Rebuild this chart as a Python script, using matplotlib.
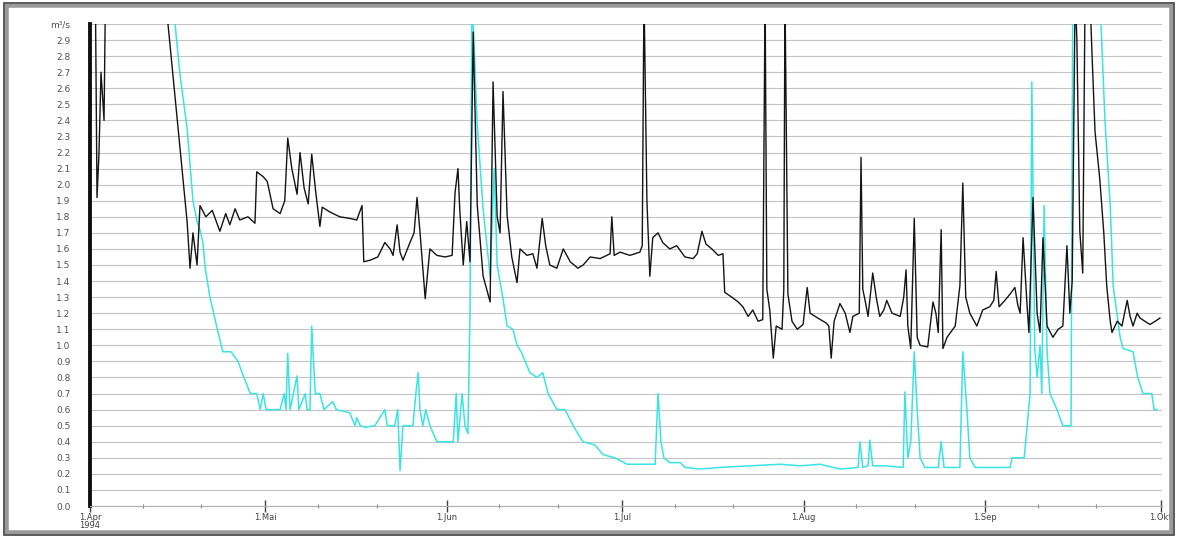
import datetime as dt
import matplotlib
matplotlib.use("Agg")
import matplotlib.pyplot as plt
import matplotlib.dates as mdates
from matplotlib.patches import Rectangle

# days after 1 Apr 1994, discharge in m3/s (black: gauge, cyan: second series)
black_days = [0.0, 0.85, 1.2, 1.54, 1.88, 2.05, 2.4, 2.74, 12.8, 16.6, 17.1, 17.6, 18.3, 18.8,
              19.8, 20.9, 22.2, 23.2, 23.9, 24.8, 25.6, 27.0, 28.2, 28.5, 29.6, 30.3, 31.3,
              32.5, 33.3, 33.8, 34.5, 35.4, 35.9, 36.6, 37.3, 37.9, 38.6, 39.3, 39.7, 41.0,
              42.7, 44.4, 45.6, 46.5, 46.8, 47.9, 49.2, 50.4, 51.3, 51.8, 52.5, 53.0, 53.5,
              54.7, 55.4, 55.9, 56.4, 57.3, 58.1, 59.3, 60.7, 61.9, 62.4, 62.9, 63.2, 63.8,
              64.4, 64.96, 65.5, 66.2, 67.2, 68.4, 68.9, 69.6, 70.1, 70.6, 71.3, 72.1, 73.0,
              73.5, 74.7, 75.7, 76.4, 77.3, 77.9, 78.6, 79.8, 80.9, 82.1, 83.4, 84.3, 85.5,
              87.2, 88.9, 89.2, 89.6, 90.6, 92.3, 94.0, 94.4, 94.7, 95.2, 95.7, 96.2, 97.1,
              97.9, 99.1, 100.3, 101.7, 103.1, 103.8, 104.6, 105.3, 106.3, 107.4, 108.2,
              108.5, 109.7, 110.8, 111.6, 112.5, 113.3, 114.2, 115.0, 115.4, 115.7, 116.2,
              116.8, 117.3, 118.3, 118.6, 118.8, 119.3, 120.0, 120.9, 121.9, 122.6, 123.1,
              124.4, 125.8, 126.3, 126.7, 127.2, 128.2, 129.1, 129.9, 130.4, 131.5, 131.8,
              132.1, 132.6, 133.0, 133.5, 133.8, 134.4, 135.0, 135.7, 136.2, 137.1, 138.5,
              139.1, 139.5, 139.8, 140.3, 140.9, 141.4, 141.9, 143.2, 144.1, 144.6, 145.0,
              145.5, 145.8, 146.5, 147.9, 148.7, 149.2, 149.7, 150.4, 151.6, 152.6, 153.8,
              154.5, 154.9, 155.4, 156.4, 157.3, 158.1, 158.6, 159.0, 159.5, 160.2, 160.5,
              161.2, 161.9, 162.4, 162.9, 163.6, 164.6, 165.5, 166.3, 167.0, 167.5, 167.9,
              168.4, 168.7, 169.2, 169.7, 170.1, 170.9, 171.3, 171.8, 172.6, 173.3, 173.8,
              174.4, 174.7, 175.6, 176.4, 177.3, 177.8, 178.3, 179.0, 179.5, 180.3, 181.2,
              182.1, 182.9]
black_flow = [3.5, 3.5, 1.92, 2.2, 2.7, 2.6, 2.4, 3.5, 3.2, 1.77, 1.48, 1.7, 1.5, 1.87,
              1.8, 1.84, 1.71, 1.82, 1.75, 1.85, 1.78, 1.8, 1.76, 2.08, 2.05, 2.02, 1.85,
              1.82, 1.9, 2.29, 2.1, 1.94, 2.2, 1.98, 1.88, 2.19, 1.95, 1.74, 1.86, 1.83,
              1.8, 1.79, 1.78, 1.87, 1.52, 1.53, 1.55, 1.64, 1.6, 1.56, 1.75, 1.58, 1.53,
              1.64, 1.7, 1.92, 1.71, 1.29, 1.6, 1.56, 1.55, 1.56, 1.95, 2.1, 1.85, 1.5,
              1.77, 1.52, 2.95, 1.87, 1.43, 1.27, 2.64, 1.8, 1.7, 2.58, 1.81, 1.55, 1.39,
              1.6, 1.56, 1.57, 1.48, 1.79, 1.62, 1.5, 1.48, 1.6, 1.52, 1.48, 1.5, 1.55,
              1.54, 1.57, 1.8, 1.56, 1.58, 1.56, 1.58, 1.62, 3.2, 1.9, 1.43, 1.67, 1.7,
              1.64, 1.6, 1.62, 1.55, 1.54, 1.57, 1.71, 1.63, 1.6, 1.56, 1.57,
              1.33, 1.3, 1.27, 1.24, 1.18, 1.22, 1.15, 1.16, 3.2, 1.35, 1.22,
              0.92, 1.12, 1.1, 1.35, 3.2, 1.32, 1.15, 1.1, 1.13, 1.36, 1.2,
              1.17, 1.14, 1.12, 0.92, 1.15, 1.26, 1.2, 1.08, 1.18, 1.2, 2.17,
              1.35, 1.26, 1.18, 1.35, 1.45, 1.3, 1.18, 1.22, 1.28, 1.2, 1.18,
              1.3, 1.47, 1.12, 0.98, 1.79, 1.05, 1.0, 0.99, 1.27, 1.2, 1.08,
              1.72, 0.98, 1.05, 1.12, 1.37, 2.01, 1.3, 1.2, 1.12, 1.22, 1.24,
              1.28, 1.46, 1.24, 1.28, 1.32, 1.36, 1.25, 1.2, 1.67, 1.24, 1.08,
              1.92, 1.2, 1.08, 1.67, 1.12, 1.05, 1.1, 1.12, 1.62, 1.2, 1.4,
              3.2, 2.9, 1.71, 1.45, 3.2, 3.2, 2.8, 2.33, 2.04, 1.7, 1.37,
              1.15, 1.08, 1.15, 1.12, 1.28, 1.18, 1.12, 1.2, 1.17, 1.15, 1.13,
              1.15, 1.17]

cyan_days = [0.0, 14.0, 15.4, 16.6, 17.6, 18.3, 18.8, 19.3, 19.7, 20.5, 21.7, 22.7, 24.1,
             25.3, 26.2, 27.4, 28.5, 29.1, 29.6, 30.1, 30.8, 32.5, 33.2, 33.5, 33.8, 34.2,
             35.4, 35.7, 36.8, 37.1, 37.6, 37.9, 38.5, 39.3, 40.0, 41.5, 42.1, 44.4, 45.3,
             45.6, 46.2, 47.0, 48.7, 50.4, 50.8, 52.1, 52.6, 53.0, 53.5, 55.2, 55.7, 56.1,
             56.4, 56.9, 57.4, 58.1, 59.3, 62.1, 62.6, 62.9, 63.6, 64.1, 64.6, 64.96, 65.3,
             66.2, 67.2, 68.4, 69.1, 69.6, 70.6, 71.3, 72.3, 73.0, 73.7, 74.4, 75.2, 76.4,
             77.4, 78.3, 79.8, 81.2, 82.6, 83.4, 84.3, 86.3, 87.7, 89.7, 91.8, 96.6, 97.1,
             97.6, 98.1, 99.1, 100.9, 101.7, 104.3, 107.7, 112.8, 118.0, 121.4, 124.8,
             128.2, 131.3, 131.6, 132.1, 133.0, 133.3, 133.8, 135.9, 139.0, 139.3, 139.8,
             140.3, 140.9, 141.4, 141.9, 142.7, 145.0, 145.5, 146.0, 148.7, 149.2, 149.9,
             150.4, 151.3, 157.3, 157.6, 159.7, 160.2, 160.7, 161.0, 161.5, 161.9, 162.4,
             162.7, 163.1, 163.6, 164.1, 165.3, 166.3, 167.7, 168.0, 172.6, 173.5, 174.4,
             174.9, 176.1, 176.6, 178.3, 179.1, 180.0, 181.5, 181.9, 182.4]
cyan_flow = [4.0, 3.2, 2.68, 2.35, 1.9, 1.77, 1.72, 1.64, 1.48, 1.3, 1.11, 0.96, 0.96,
             0.9, 0.81, 0.7, 0.7, 0.6, 0.7, 0.6, 0.6, 0.6, 0.7, 0.6, 0.95, 0.6,
             0.81, 0.6, 0.7, 0.6, 0.6, 1.12, 0.7, 0.7, 0.6, 0.65, 0.6, 0.58, 0.5,
             0.55, 0.5, 0.49, 0.5, 0.6, 0.5, 0.5, 0.6, 0.22, 0.5, 0.5, 0.7, 0.83,
             0.6, 0.5, 0.6, 0.5, 0.4, 0.4, 0.7, 0.4, 0.7, 0.5, 0.45, 1.2, 3.2,
             2.37, 1.85, 1.43, 2.1, 1.5, 1.29, 1.12, 1.1, 1.0, 0.96, 0.9, 0.83, 0.8,
             0.83, 0.7, 0.6, 0.6, 0.5, 0.45, 0.4, 0.38, 0.32, 0.3, 0.26, 0.26, 0.7,
             0.4, 0.3, 0.27, 0.27, 0.24, 0.23, 0.24, 0.25, 0.26, 0.25, 0.26,
             0.23, 0.24, 0.4, 0.24, 0.25, 0.41, 0.25, 0.25, 0.24, 0.71, 0.3,
             0.4, 0.96, 0.6, 0.3, 0.24, 0.24, 0.4, 0.24, 0.24, 0.96, 0.6,
             0.3, 0.24, 0.24, 0.3, 0.3, 0.5, 0.7, 2.64, 0.98, 0.8, 1.0,
             0.7, 1.87, 0.96, 0.7, 0.6, 0.5, 0.5, 3.2, 3.2, 2.4, 1.87,
             1.37, 1.05, 0.98, 0.96, 0.8, 0.7, 0.7, 0.6, 0.6]

month_labels = ["1.Apr\n1994", "1.Mai", "1.Jun", "1.Jul", "1.Aug", "1.Sep", "1.Okt"]
month_starts = [dt.datetime(1994, m, 1) for m in range(4, 11)]
y_labels = [f"{v / 10:.1f}" for v in range(30)] + ["m³/s"]

start = dt.datetime(1994, 4, 1)


def to_dates(days):
    return [start + dt.timedelta(days=d) for d in days]


fig = plt.figure(figsize=(11.78, 5.37), dpi=100)

# grey panel frame
fig.patches.append(Rectangle((6 / 1178, 4 / 537), 1166 / 1178, 528 / 537,
                             transform=fig.transFigure, fill=False,
                             edgecolor="#9a9a9a", linewidth=4, zorder=0))
fig.patches.append(Rectangle((4 / 1178, 2 / 537), 1170 / 1178, 532 / 537,
                             transform=fig.transFigure, fill=False,
                             edgecolor="#505050", linewidth=1.2, zorder=0))

ax = fig.add_axes([90 / 1178, 31 / 537, 1072 / 1178, 482 / 537])

ax.plot(to_dates(cyan_days), cyan_flow, color="#3ae4e4", linewidth=1.1, zorder=2)
ax.plot(to_dates(black_days), black_flow, color="#141414", linewidth=1.0, zorder=3)

ax.set_xlim(start, dt.datetime(1994, 10, 1, 6))
ax.set_ylim(0, 3.0)

ax.set_yticks([v / 10 for v in range(31)])
ax.set_yticklabels(y_labels)
ax.set_yticks([0, 0.5, 1.0, 1.5, 2.0, 2.5], minor=True)
ax.tick_params(axis="y", which="major", length=0, pad=14, labelsize=6.5, labelcolor="#505050")
ax.tick_params(axis="y", which="minor", length=8, width=0.8, color="#808080")
ax.yaxis.grid(True, color="#c4c4c4", linewidth=0.8)
ax.set_axisbelow(True)

ax.set_xticks(month_starts)
ax.set_xticklabels(month_labels, linespacing=0.85)
ax.xaxis.set_minor_locator(mdates.DayLocator(bymonthday=[10, 20]))
ax.tick_params(axis="x", which="major", direction="inout", length=8, width=1.0,
               color="#404040", labelsize=6, labelcolor="#404040", pad=1)
ax.tick_params(axis="x", which="minor", direction="inout", length=3, width=0.8, color="#808080")

for s in ["top", "right"]:
    ax.spines[s].set_visible(False)
ax.spines["bottom"].set_color("#b0b0b0")
ax.spines["bottom"].set_linewidth(0.8)
ax.spines["left"].set_color("#101010")
ax.spines["left"].set_linewidth(2.8)

fig.savefig("out.png", dpi=100)
